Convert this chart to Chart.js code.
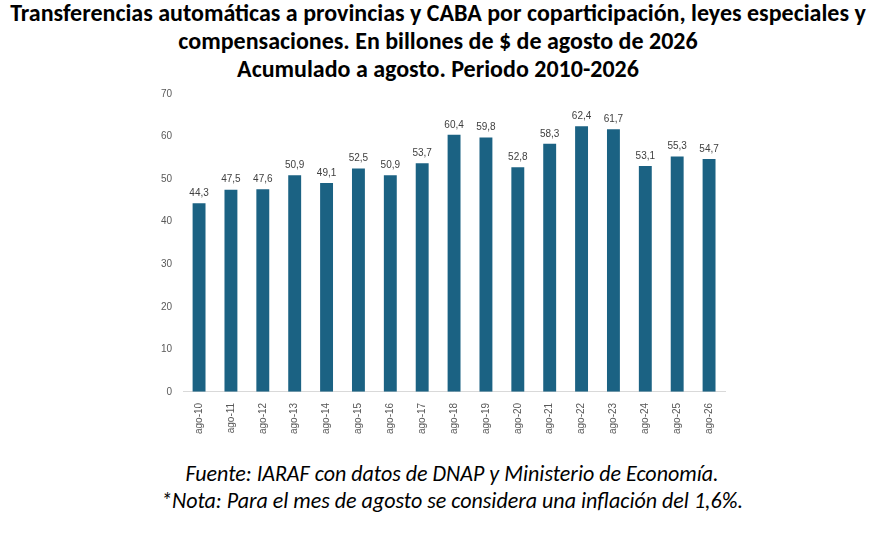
<!DOCTYPE html>
<html><head><meta charset="utf-8">
<script src="https://cdn.jsdelivr.net/npm/chart.js@4/dist/chart.umd.min.js"></script>
<style>
body{margin:0;width:896px;height:540px;background:#fff;font-family:Calibri,Carlito,"Liberation Sans",sans-serif;position:relative;overflow:hidden}
#title{position:absolute;top:-1px;left:-10px;width:896px;text-align:center;font-weight:bold;font-size:24px;line-height:28px;color:#000;white-space:nowrap}
#wrap{position:absolute;top:85px;left:0;width:896px;height:352px}
#foot{position:absolute;top:460px;left:4px;width:896px;text-align:center;font-style:italic;font-size:22px;line-height:27px;color:#000}
</style></head>
<body>
<div id="title">Transferencias automáticas a provincias y CABA por coparticipación, leyes especiales y<br>compensaciones. En billones de $ de agosto de 2026<br>Acumulado a agosto. Periodo 2010-2026</div>
<div id="wrap"><canvas id="c"></canvas></div>
<div id="foot">Fuente: IARAF con datos de DNAP y Ministerio de Economía.<br>*Nota: Para el mes de agosto se considera una inflación del 1,6%.</div>
<script>
const labels = ["ago-10","ago-11","ago-12","ago-13","ago-14","ago-15","ago-16","ago-17","ago-18","ago-19","ago-20","ago-21","ago-22","ago-23","ago-24","ago-25","ago-26"];
const values = [44.3,47.5,47.6,50.9,49.1,52.5,50.9,53.7,60.4,59.8,52.8,58.3,62.4,61.7,53.1,55.3,54.7];

const valueLabels = {
  id: "valueLabels",
  afterDatasetsDraw(chart) {
    const ctx = chart.ctx;
    ctx.save();
    ctx.font = "10px 'Liberation Sans', sans-serif";
    ctx.fillStyle = "#404040";
    ctx.textAlign = "center";
    ctx.textBaseline = "bottom";
    chart.getDatasetMeta(0).data.forEach((bar, i) => {
      ctx.fillText(values[i].toFixed(1).replace(".", ","), bar.x, bar.y - 5);
    });
    ctx.restore();
  }
};

new Chart(document.getElementById("c"), {
  type: "bar",
  data: { labels, datasets: [{ data: values, backgroundColor: "#1b6283", barPercentage: 0.45, categoryPercentage: 0.9 }] },
  options: {
    responsive: true,
    maintainAspectRatio: false,
    animation: false,
    layout: { padding: { left: 158, right: 171, top: 6 } },
    plugins: { legend: { display: false }, tooltip: { enabled: false } },
    scales: {
      y: {
        min: 0, max: 70,
        ticks: { stepSize: 10, color: "#595959", font: { size: 10, family: "'Liberation Sans', sans-serif" } },
        grid: { display: false },
        border: { display: false }
      },
      x: {
        ticks: { minRotation: 90, maxRotation: 90, color: "#595959", font: { size: 10, family: "'Liberation Sans', sans-serif" } },
        grid: { display: false },
        border: { display: true, color: "#d9d9d9" }
      }
    }
  },
  plugins: [valueLabels]
});
</script>
</body></html>
